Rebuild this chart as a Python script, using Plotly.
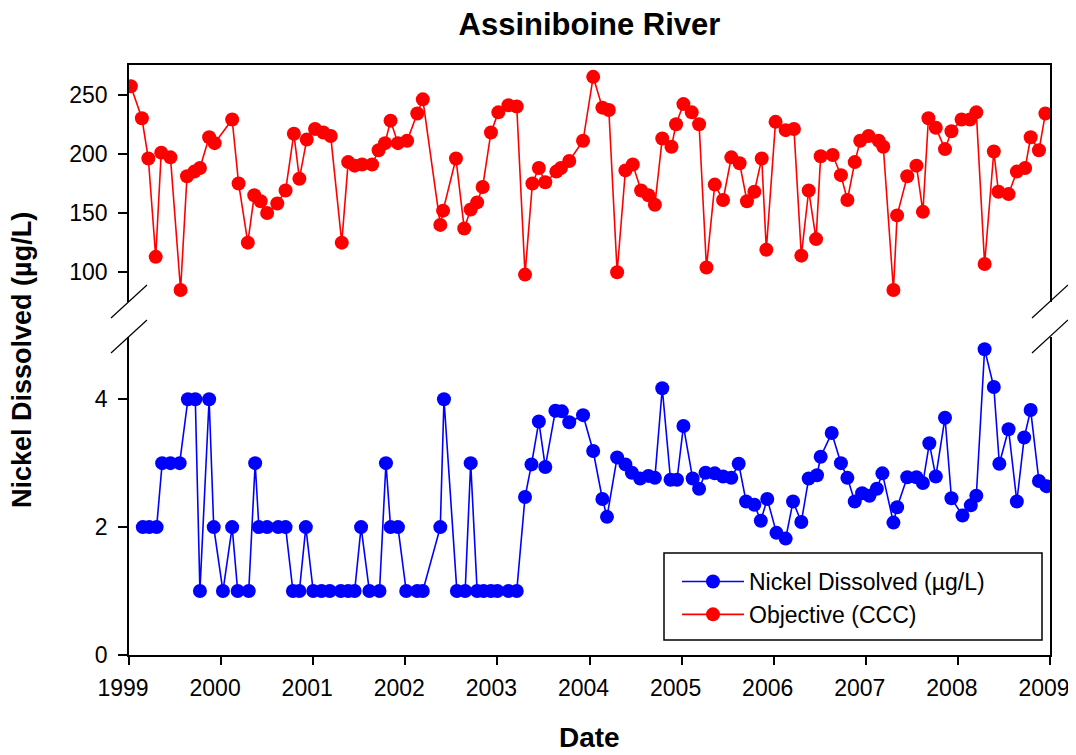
import numpy as np
import pandas as pd
import plotly.graph_objects as go

# ---- data (sample dates as decimal years, values in µg/L) ----
nickel_year = [1999.15, 1999.22, 1999.30, 1999.36, 1999.45, 1999.55, 1999.64, 1999.72, 1999.77, 1999.87,
               1999.92, 2000.02, 2000.12, 2000.18, 2000.30, 2000.37, 2000.41, 2000.50, 2000.62, 2000.70,
               2000.78, 2000.85, 2000.92, 2001.00, 2001.09, 2001.18, 2001.30, 2001.38, 2001.45, 2001.52,
               2001.61, 2001.72, 2001.79, 2001.84, 2001.92, 2002.01, 2002.13, 2002.19, 2002.38, 2002.42,
               2002.56, 2002.65, 2002.71, 2002.78, 2002.85, 2002.93, 2003.00, 2003.12, 2003.21, 2003.30,
               2003.37, 2003.45, 2003.52, 2003.63, 2003.70, 2003.78, 2003.93, 2004.04, 2004.14, 2004.19,
               2004.30, 2004.39, 2004.46, 2004.55, 2004.64, 2004.71, 2004.79, 2004.88, 2004.95, 2005.02,
               2005.12, 2005.19, 2005.26, 2005.36, 2005.45, 2005.54, 2005.62, 2005.70, 2005.79, 2005.86,
               2005.93, 2006.03, 2006.13, 2006.21, 2006.30, 2006.38, 2006.47, 2006.51, 2006.63, 2006.73,
               2006.80, 2006.88, 2006.96, 2007.04, 2007.12, 2007.18, 2007.30, 2007.34, 2007.45, 2007.55,
               2007.62, 2007.69, 2007.76, 2007.86, 2007.93, 2008.05, 2008.14, 2008.20, 2008.29, 2008.39,
               2008.45, 2008.55, 2008.64, 2008.72, 2008.79, 2008.88, 2008.96]
nickel_ugL = [2, 2, 2, 3, 3, 3, 4, 4, 1, 4,
              2, 1, 2, 1, 1, 3, 2, 2, 2, 2,
              1, 1, 2, 1, 1, 1, 1, 1, 1, 2,
              1, 1, 3, 2, 2, 1, 1, 1, 2, 4,
              1, 1, 3, 1, 1, 1, 1, 1, 1, 2.47,
              2.98, 3.65, 2.94, 3.82, 3.81, 3.64, 3.75, 3.19, 2.44, 2.16,
              3.09, 2.98, 2.85, 2.76, 2.80, 2.77, 4.17, 2.74, 2.74, 3.58,
              2.76, 2.60, 2.85, 2.84, 2.79, 2.77, 2.99, 2.40, 2.35, 2.10,
              2.44, 1.91, 1.82, 2.40, 2.08, 2.76, 2.81, 3.10, 3.47, 3.00,
              2.77, 2.40, 2.53, 2.49, 2.60, 2.84, 2.07, 2.31, 2.78, 2.78,
              2.69, 3.31, 2.79, 3.71, 2.45, 2.18, 2.34, 2.49, 4.78, 4.19,
              2.99, 3.53, 2.40, 3.40, 3.83, 2.72, 2.64]

ccc_year = [1999.02, 1999.14, 1999.21, 1999.29, 1999.35, 1999.45, 1999.56, 1999.63, 1999.71, 1999.77,
            1999.87, 1999.93, 2000.12, 2000.19, 2000.29, 2000.36, 2000.43, 2000.50, 2000.61, 2000.70,
            2000.79, 2000.85, 2000.93, 2001.02, 2001.11, 2001.19, 2001.31, 2001.38, 2001.45, 2001.53,
            2001.64, 2001.71, 2001.78, 2001.84, 2001.92, 2002.02, 2002.13, 2002.19, 2002.38, 2002.41,
            2002.55, 2002.64, 2002.71, 2002.78, 2002.84, 2002.93, 2003.01, 2003.12, 2003.21, 2003.30,
            2003.38, 2003.45, 2003.52, 2003.64, 2003.69, 2003.78, 2003.93, 2004.04, 2004.14, 2004.21,
            2004.30, 2004.39, 2004.47, 2004.56, 2004.64, 2004.71, 2004.79, 2004.89, 2004.94, 2005.02,
            2005.11, 2005.19, 2005.27, 2005.36, 2005.45, 2005.54, 2005.63, 2005.71, 2005.79, 2005.87,
            2005.92, 2006.02, 2006.13, 2006.22, 2006.30, 2006.38, 2006.46, 2006.51, 2006.64, 2006.73,
            2006.80, 2006.88, 2006.94, 2007.03, 2007.14, 2007.19, 2007.30, 2007.34, 2007.45, 2007.55,
            2007.62, 2007.68, 2007.76, 2007.86, 2007.93, 2008.04, 2008.13, 2008.20, 2008.29, 2008.39,
            2008.44, 2008.55, 2008.64, 2008.73, 2008.79, 2008.88, 2008.95]
ccc_ugL = [257, 230, 196, 113, 201, 197, 85, 181, 185, 188,
           214, 209, 229, 175, 125, 165, 160, 150, 158, 169,
           217, 179, 212, 221, 218, 215, 125, 193, 190, 191,
           191, 203, 209, 228, 209, 211, 234, 246, 140, 152,
           196, 137, 153, 159, 172, 218, 235, 241, 240, 98,
           175, 188, 176, 185, 188, 194, 211, 265, 239, 237,
           100, 186, 191, 169, 165, 157, 213, 206, 225, 242,
           235, 225, 104, 174, 161, 197, 192, 160, 168, 196,
           119, 227, 220, 221, 114, 169, 128, 198, 199, 182,
           161, 193, 211, 215, 211, 206, 85, 148, 181, 190,
           151, 230, 222, 204, 219, 229, 229, 235, 107, 202,
           168, 166, 185, 188, 214, 203, 234]

year_ticks = list(range(1999, 2010))
low_ticks = [0, 2, 4]
high_ticks = [100, 150, 200, 250]

title_text = "Assiniboine River"
x_title = "Date"
y_title = "Nickel Dissolved (µg/L)"
name_nickel = "Nickel Dissolved (µg/L)"
name_ccc = "Objective (CCC)"


def to_date(years):
    y = np.asarray(years, dtype=float)
    return pd.Timestamp("1999-01-01") + pd.to_timedelta((y - 1999) * 365.25, unit="D")


FONT = "Liberation Sans, Arial, sans-serif"
BLUE = "#0000FF"
RED = "#FF0000"

# page body has an 8px margin: size the figure to fit the window exactly
OFF = 8
W, H = 1076 - OFF, 755 - OFF
PL, PR, PT, PB = 129, 1050, 65, 655          # plot area in window pixels
PW, PH = PR - PL, PB - PT

fig = go.Figure()
fig.add_trace(go.Scatter(
    x=to_date(nickel_year), y=nickel_ugL, name=name_nickel, mode="lines+markers",
    line=dict(color=BLUE, width=1.6), marker=dict(color=BLUE, size=14, line=dict(width=0)),
    xaxis="x", yaxis="y"))
fig.add_trace(go.Scatter(
    x=to_date(ccc_year), y=ccc_ugL, name=name_ccc, mode="lines+markers",
    line=dict(color=RED, width=1.6), marker=dict(color=RED, size=14, line=dict(width=0)),
    xaxis="x2", yaxis="y2"))

tick_font = dict(family=FONT, size=23, color="black")
xr = to_date([1999, 2009])
tickdates = to_date(year_ticks)

LOW_TOP = (PB - 336.5) / PH
HIGH_BOT = (PB - 301.5) / PH

fig.update_layout(
    width=W, height=H,
    margin=dict(l=PL - OFF, r=W - (PR - OFF), t=PT - OFF, b=H - (PB - OFF), autoexpand=False),
    paper_bgcolor="white", plot_bgcolor="white",
    showlegend=True,
    xaxis=dict(domain=[0, 1], anchor="y", range=[xr[0], xr[1]], type="date",
               tickvals=list(tickdates), ticktext=[str(y) for y in year_ticks],
               ticks="outside", ticklen=8, tickwidth=1.5, tickcolor="black",
               ticklabelstandoff=4, ticklabelshift=-6,
               showline=True, linecolor="black", linewidth=1.5, mirror=False,
               showgrid=False, zeroline=False, tickfont=tick_font),
    yaxis=dict(domain=[0, LOW_TOP], anchor="x", range=[0, 4.98],
               tickvals=low_ticks, ticks="outside", ticklen=9, tickwidth=1.5, tickcolor="black",
               ticklabelstandoff=6,
               showline=True, linecolor="black", linewidth=1.5, mirror=True,
               showgrid=False, zeroline=False, tickfont=tick_font),
    xaxis2=dict(domain=[0, 1], anchor="y2", matches="x", type="date", side="top",
                showticklabels=False, ticks="", showline=True, linecolor="black",
                linewidth=1.5, mirror=False, showgrid=False, zeroline=False),
    yaxis2=dict(domain=[HIGH_BOT, 1], anchor="x2", range=[75.3, 275],
                tickvals=high_ticks, ticks="outside", ticklen=9, tickwidth=1.5, tickcolor="black",
                ticklabelstandoff=6,
                showline=True, linecolor="black", linewidth=1.5, mirror=True,
                showgrid=False, zeroline=False, tickfont=tick_font),
    legend=dict(x=(677 - PL) / PW, y=(PB - 560) / PH, xanchor="left", yanchor="top",
                bgcolor="rgba(0,0,0,0)", borderwidth=0, itemwidth=62,
                font=dict(family=FONT, size=23, color="black"), tracegroupgap=0),
    title=dict(text="<b>%s</b>" % title_text, x=((PL + PR) / 2 - OFF) / W, xanchor="center",
               y=1 - (24 - OFF) / H, yanchor="middle", font=dict(family=FONT, size=31, color="black")),
)

# axis titles
fig.add_annotation(text="<b>%s</b>" % x_title, xref="paper", yref="paper", x=0.5, y=(PB - 738) / PH,
                   xanchor="center", yanchor="middle", showarrow=False,
                   font=dict(family=FONT, size=28, color="black"))
fig.add_annotation(text="<b>%s</b>" % y_title, xref="paper", yref="paper", x=(22 - PL) / PW, y=0.5,
                   xanchor="center", yanchor="middle", textangle=-90, showarrow=False,
                   font=dict(family=FONT, size=27, color="black"))

# legend box
fig.add_shape(type="rect", xref="paper", yref="paper",
              x0=(664 - PL) / PW, x1=(1042 - PL) / PW, y0=(PB - 640) / PH, y1=(PB - 553) / PH,
              line=dict(color="black", width=1.5), fillcolor="white", layer="below")

# axis break marks
dx = 18 / PW
dy = 16.5 / PH
for xb in (0.0, 1.0):
    for yc in (HIGH_BOT, LOW_TOP):
        fig.add_shape(type="line", xref="paper", yref="paper",
                      x0=xb - dx, y0=yc - dy, x1=xb + dx, y1=yc + dy,
                      line=dict(color="black", width=1.2))

fig.write_html("out.html")
